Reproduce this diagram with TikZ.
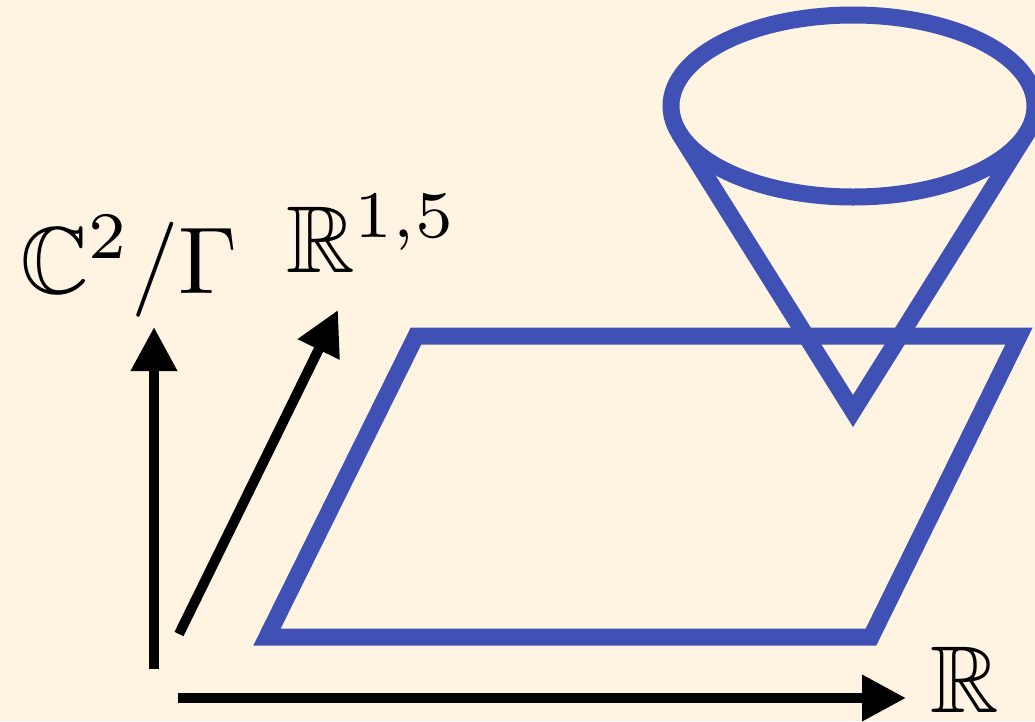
\documentclass[tikz,border=0pt]{standalone}
\usepackage{amssymb}
\usepackage{graphicx}
\usetikzlibrary{arrows.meta}
\definecolor{bgcream}{RGB}{255,243,226}
\definecolor{conblue}{RGB}{63,81,181}
\begin{document}
\begin{tikzpicture}[x=1pt,y=-1pt,
  shapeline/.style={draw=conblue,line width=17pt,line join=miter},
  axis/.style={line width=10pt,-{Triangle[length=44pt,width=44pt]}},
  lab/.style={inner sep=0pt,anchor=base west}]
\fill[bgcream] (0,0) rectangle (1035,721);
\useasboundingbox (0,0) rectangle (1035,721);
% plane
\draw[shapeline] (267,637) -- (871,637) -- (1019,336) -- (416,336) -- cycle;
% cone
\draw[shapeline] (679,133) -- (853,411) -- (1027,133);
\draw[shapeline] (853,106) ellipse [x radius=182pt, y radius=91pt];
% axes
\coordinate (o1) at (154,669);
\coordinate (t1) at (154,327);
\coordinate (o2) at (179,634);
\coordinate (t2) at (338,310);
\coordinate (o3) at (178,698);
\coordinate (t3) at (906,698);
\draw[axis] (o1) -- (t1);
\draw[axis] (o2) -- (t2);
\draw[axis] (o3) -- (t3);
% labels
\node[lab] (c2) at (20,293) {\scalebox{9.5}{$\mathbb{C}^2/\Gamma$}};
\node[lab] (r15) at (286,272) {\scalebox{9.5}{$\mathbb{R}^{1,5}$}};
\node[lab] (r) at (930,712) {\scalebox{9.5}{$\mathbb{R}$}};
\end{tikzpicture}
\end{document}
